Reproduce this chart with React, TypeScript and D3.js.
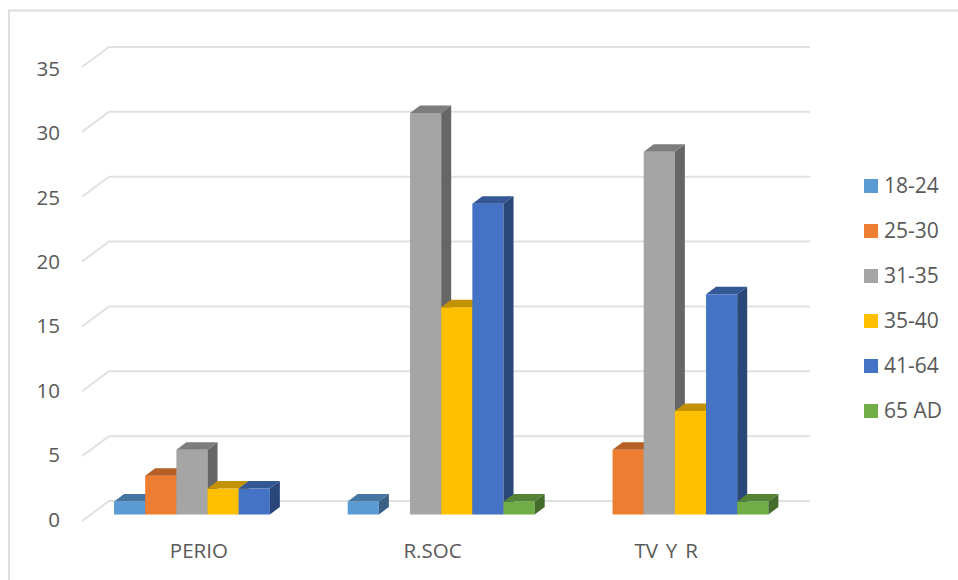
import React from "react";
import * as d3 from "d3";

const categories = ["PERIO", "R.SOC", "TV Y R"];
const seriesNames = ["18-24", "25-30", "31-35", "35-40", "41-64", "65 AD"];
const seriesColors = ["#5B9BD5", "#ED7D31", "#A5A5A5", "#FFC000", "#4472C4", "#70AD47"];
const values18to24 = [1, 1, 0];
const values25to30 = [3, 0, 5];
const values31to35 = [5, 31, 28];
const values35to40 = [2, 16, 8];
const values41to64 = [2, 24, 17];
const values65up = [0, 1, 1];
const seriesValues = [values18to24, values25to30, values31to35, values35to40, values41to64, values65up];
const yTicks = [0, 5, 10, 15, 20, 25, 30, 35];

const WIDTH = 958;
const HEIGHT = 580;
const FONT = "'Open Sans', 'Noto Sans', sans-serif";
const TEXT = "#595959";
const GRID = "#e1e1e1";

// Oblique projection used for the bars and the back wall.
const DEPTH_X = 10;
const DEPTH_Y = 7.5;
const WALL_X = 27;
const WALL_Y = 20;

const y = d3.scaleLinear().domain([0, 35]).range([514.5, 61.2]);
const wallY = d3.scaleLinear().domain([0, 35]).range([501, 47]);
// Axis numbers sit on the front edge of the floor, slightly below the wall ticks.
const tickBaseline = d3.scaleLinear().domain([0, 35]).range([526.5, 76]);
const xCategory = d3.scaleBand<string>().domain(categories).range([82, 783]);
const clusterWidth = 187;
const xSeries = d3.scaleBand<string>().domain(seriesNames).range([0, clusterWidth]);
const clusterOffset = (xCategory.bandwidth() - clusterWidth) / 2 + 8.7;

const shade = (color: string, k: number) => {
  const c = d3.rgb(color);
  return d3.rgb(c.r * k, c.g * k, c.b * k).formatHex();
};

const poly = (pts: [number, number][]) => d3.line()(pts) + "Z";

function Bar({ x, w, value, color }: { x: number; w: number; value: number; color: string }) {
  const top = y(value);
  const base = y(0);
  return (
    <g>
      <rect x={x} y={top} width={w} height={base - top} fill={color} />
      <path
        d={poly([
          [x, top],
          [x + DEPTH_X, top - DEPTH_Y],
          [x + w + DEPTH_X, top - DEPTH_Y],
          [x + w, top],
        ])}
        fill={shade(color, 0.76)}
      />
      <path
        d={poly([
          [x + w, top],
          [x + w + DEPTH_X, top - DEPTH_Y],
          [x + w + DEPTH_X, base - DEPTH_Y],
          [x + w, base],
        ])}
        fill={shade(color, 0.62)}
      />
    </g>
  );
}

export default function App() {
  return (
    <svg
      width={WIDTH}
      height={HEIGHT}
      viewBox={`0 0 ${WIDTH} ${HEIGHT}`}
      style={{ position: "absolute", left: 0, top: 0, background: "#fff" }}
    >
      {/* chart frame, open at the right and bottom */}
      <path d={`M9 ${HEIGHT}V10.5H${WIDTH}`} fill="none" stroke="#dcdcdc" strokeWidth={1.8} />

      {/* back wall gridlines with their diagonal floor ties */}
      {yTicks.map((t) => (
        <path
          key={t}
          d={`M82 ${wallY(t) + WALL_Y}L${82 + WALL_X} ${wallY(t)}H810`}
          fill="none"
          stroke={GRID}
          strokeWidth={2}
        />
      ))}

      {yTicks.map((t) => (
        <text
          key={t}
          x={60}
          y={tickBaseline(t)}
          textAnchor="end"
          fontFamily={FONT}
          fontSize={20.5}
          fill={TEXT}
        >
          {t}
        </text>
      ))}

      {categories.map((cat, ci) =>
        seriesNames.map((name, si) =>
          seriesValues[si][ci] > 0 ? (
            <Bar
              key={cat + name}
              x={(xCategory(cat) as number) + clusterOffset + (xSeries(name) as number)}
              w={xSeries.bandwidth()}
              value={seriesValues[si][ci]}
              color={seriesColors[si]}
            />
          ) : null
        )
      )}

      {categories.map((cat) => (
        <text
          key={cat}
          x={(xCategory(cat) as number) + xCategory.bandwidth() / 2}
          y={558}
          textAnchor="middle"
          fontFamily={FONT}
          fontSize={20.5}
          wordSpacing={2.5}
          fill={TEXT}
        >
          {cat}
        </text>
      ))}

      {seriesNames.map((name, i) => (
        <g key={name} transform={`translate(864, ${179 + i * 45})`}>
          <rect width={14} height={14} fill={seriesColors[i]} />
          <text x={20} y={14} fontFamily={FONT} fontSize={21} fill={TEXT}>
            {name}
          </text>
        </g>
      ))}
    </svg>
  );
}
